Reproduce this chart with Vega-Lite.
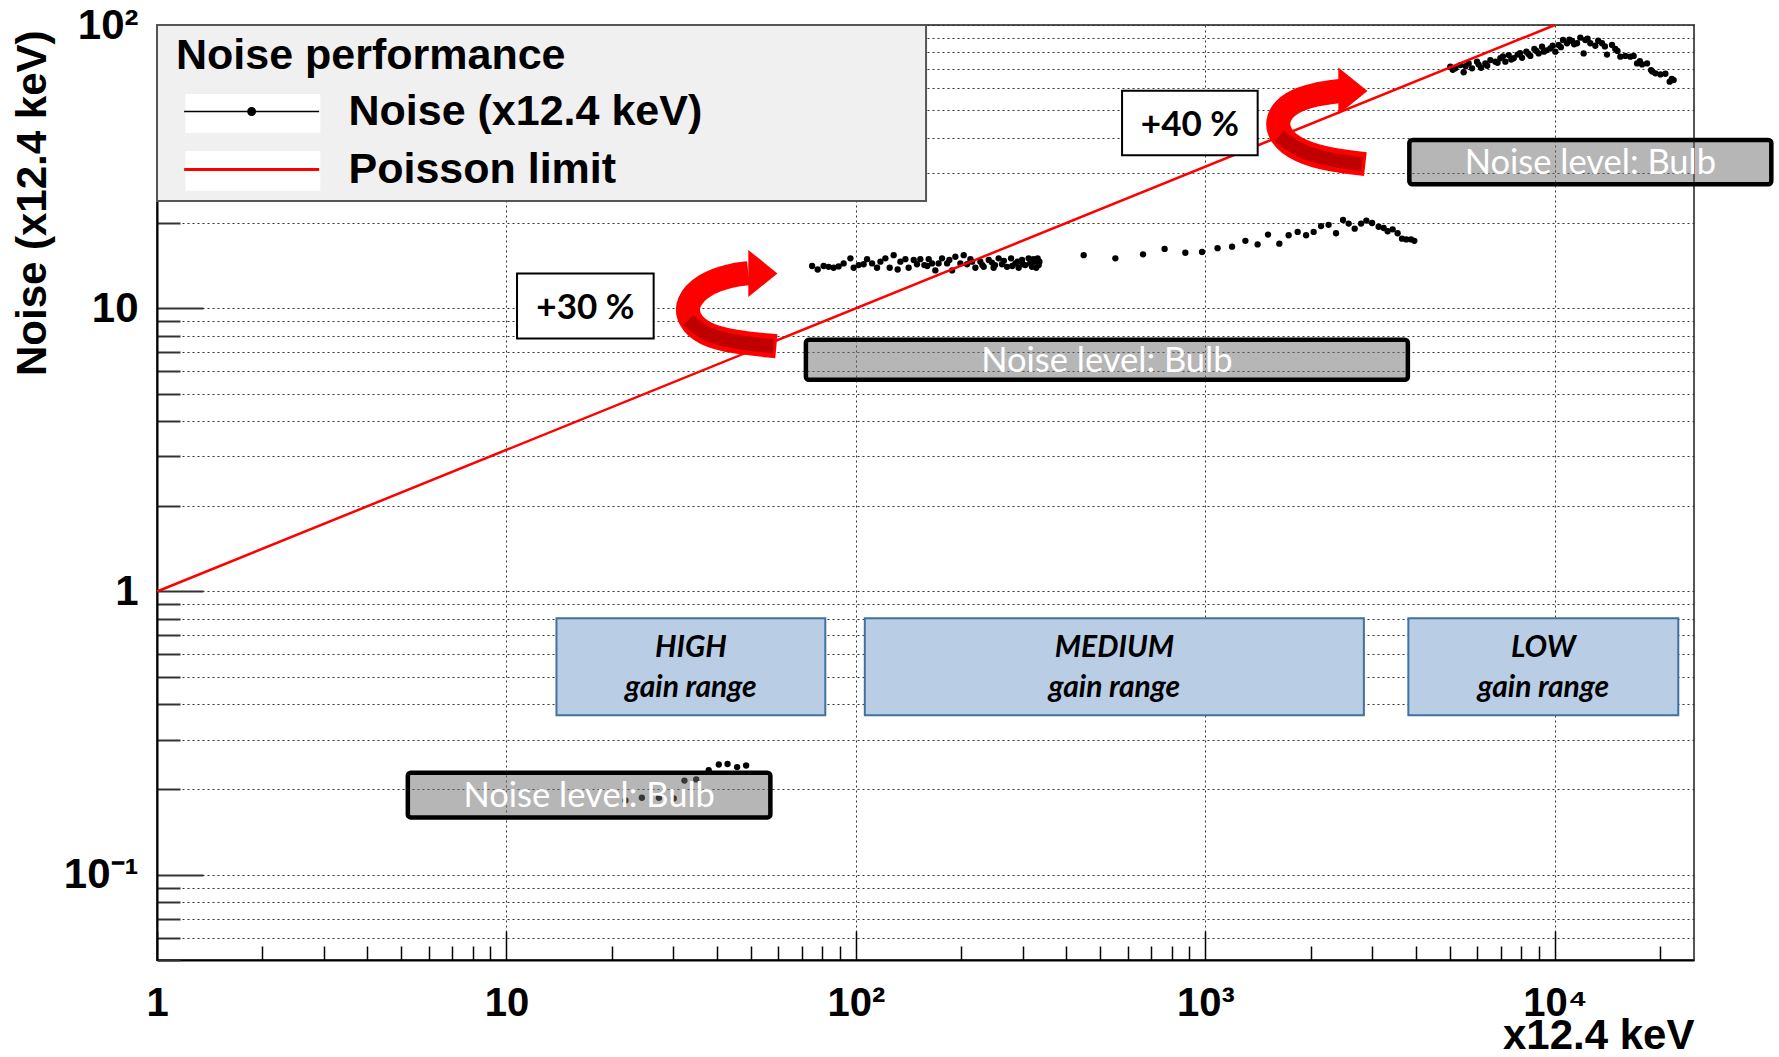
{
  "$schema": "https://vega.github.io/schema/vega-lite/v6.json",
  "width": 1537,
  "height": 935,
  "autosize": {"type": "none"},
  "padding": {"left": 157, "top": 25, "right": 85, "bottom": 97},
  "background": "white",
  "config": {"view": {"stroke": "#555555", "strokeWidth": 2}, "font": "Liberation Sans"},
  "datasets": {
    "noise": [
      {"x": 21.9, "y": 0.183}, {"x": 24.4, "y": 0.187}, {"x": 27.3, "y": 0.187}, {"x": 30.1, "y": 0.186},
      {"x": 32.3, "y": 0.215}, {"x": 34.9, "y": 0.217}, {"x": 37.9, "y": 0.234}, {"x": 40.5, "y": 0.245},
      {"x": 42.9, "y": 0.246}, {"x": 45.7, "y": 0.24}, {"x": 48.5, "y": 0.243},
      {"x": 74.9, "y": 14.1}, {"x": 77.7, "y": 13.7}, {"x": 80.8, "y": 14.1}, {"x": 83.5, "y": 14.0},
      {"x": 86.3, "y": 13.9}, {"x": 89.2, "y": 14.05}, {"x": 92.2, "y": 14.4}, {"x": 96.4, "y": 15.0},
      {"x": 98.5, "y": 13.9}, {"x": 101.8, "y": 14.2}, {"x": 105.2, "y": 14.3}, {"x": 107.6, "y": 14.9},
      {"x": 111.2, "y": 14.4}, {"x": 114.9, "y": 13.9}, {"x": 117.5, "y": 14.6}, {"x": 121.4, "y": 15.0},
      {"x": 124.9, "y": 13.9}, {"x": 128.2, "y": 15.4}, {"x": 131.6, "y": 13.7}, {"x": 134.0, "y": 14.6},
      {"x": 138.5, "y": 14.9}, {"x": 141.5, "y": 13.9}, {"x": 146.3, "y": 14.8}, {"x": 149.5, "y": 14.3},
      {"x": 152.8, "y": 14.9}, {"x": 156.9, "y": 14.2}, {"x": 160.0, "y": 14.1}, {"x": 161.5, "y": 14.9},
      {"x": 165.1, "y": 14.4}, {"x": 168.7, "y": 13.6}, {"x": 172.4, "y": 14.4}, {"x": 176.3, "y": 15.0},
      {"x": 182.3, "y": 14.4}, {"x": 185.0, "y": 14.8}, {"x": 188.4, "y": 13.6}, {"x": 192.5, "y": 15.2},
      {"x": 199.0, "y": 14.4}, {"x": 203.4, "y": 15.4}, {"x": 207.9, "y": 14.3}, {"x": 212.5, "y": 14.9},
      {"x": 215.0, "y": 14.6}, {"x": 219.6, "y": 13.9}, {"x": 227.0, "y": 14.6}, {"x": 230.0, "y": 14.2},
      {"x": 232.0, "y": 14.0}, {"x": 239.8, "y": 14.8}, {"x": 245.0, "y": 14.5}, {"x": 247.7, "y": 13.9},
      {"x": 250.0, "y": 14.2}, {"x": 256.0, "y": 15.0}, {"x": 261.8, "y": 14.3}, {"x": 265.0, "y": 14.7},
      {"x": 270.6, "y": 14.0}, {"x": 277.8, "y": 15.0}, {"x": 280.0, "y": 14.1}, {"x": 285.8, "y": 14.4},
      {"x": 290.0, "y": 14.6}, {"x": 292.1, "y": 13.9}, {"x": 298.7, "y": 14.8}, {"x": 300.0, "y": 14.3},
      {"x": 305.2, "y": 14.2}, {"x": 311.9, "y": 15.0}, {"x": 315.0, "y": 14.4}, {"x": 319.0, "y": 14.0},
      {"x": 322.0, "y": 14.9}, {"x": 326.0, "y": 14.6}, {"x": 328.0, "y": 13.9}, {"x": 331.0, "y": 15.0},
      {"x": 333.3, "y": 14.2}, {"x": 335.0, "y": 14.6},
      {"x": 448.3, "y": 15.4}, {"x": 552.4, "y": 15.0}, {"x": 662.8, "y": 15.5}, {"x": 764.2, "y": 16.2},
      {"x": 875.9, "y": 15.7}, {"x": 977.9, "y": 15.8}, {"x": 1083, "y": 16.3}, {"x": 1191.5, "y": 16.5},
      {"x": 1301, "y": 17.3}, {"x": 1410, "y": 16.8}, {"x": 1510, "y": 18.2}, {"x": 1627, "y": 16.9},
      {"x": 1730, "y": 18.1}, {"x": 1836, "y": 18.6}, {"x": 1941, "y": 18.1}, {"x": 2040, "y": 18.6},
      {"x": 2142, "y": 19.5}, {"x": 2251, "y": 19.7}, {"x": 2364, "y": 18.4}, {"x": 2476, "y": 20.5},
      {"x": 2569, "y": 19.9}, {"x": 2673, "y": 19.1}, {"x": 2788, "y": 19.9}, {"x": 2887, "y": 20.4},
      {"x": 2998, "y": 20.0}, {"x": 3130, "y": 19.4}, {"x": 3236, "y": 19.2}, {"x": 3322, "y": 18.7},
      {"x": 3433, "y": 19.0}, {"x": 3547, "y": 18.4}, {"x": 3651, "y": 17.6}, {"x": 3756, "y": 17.5},
      {"x": 3875, "y": 17.5}, {"x": 3960, "y": 17.3},
      {"x": 5020, "y": 71.3}, {"x": 5100, "y": 69.5}, {"x": 5188, "y": 70.3}, {"x": 5362, "y": 72.2},
      {"x": 5481, "y": 68.1}, {"x": 5550, "y": 71.5}, {"x": 5664, "y": 73.2}, {"x": 5792, "y": 70.3},
      {"x": 5985, "y": 74.2}, {"x": 6050, "y": 72.5}, {"x": 6147, "y": 70.6}, {"x": 6323, "y": 73.2},
      {"x": 6400, "y": 71.8}, {"x": 6535, "y": 75.2}, {"x": 6754, "y": 74.2}, {"x": 6850, "y": 73.5},
      {"x": 6980, "y": 76.3}, {"x": 7100, "y": 77.5}, {"x": 7214, "y": 74.2}, {"x": 7373, "y": 78.3},
      {"x": 7500, "y": 75.5}, {"x": 7620, "y": 76.3}, {"x": 7823, "y": 78.6}, {"x": 7950, "y": 79.5},
      {"x": 8053, "y": 76.6}, {"x": 8285, "y": 80.5}, {"x": 8400, "y": 79.0}, {"x": 8505, "y": 77.8},
      {"x": 8733, "y": 82.3}, {"x": 8850, "y": 81.0}, {"x": 8984, "y": 79.4}, {"x": 9184, "y": 83.8},
      {"x": 9300, "y": 80.5}, {"x": 9449, "y": 81.4}, {"x": 9701, "y": 82.6}, {"x": 9850, "y": 84.5},
      {"x": 10025, "y": 80.5}, {"x": 10247, "y": 85.0}, {"x": 10400, "y": 83.5}, {"x": 10548, "y": 88.5},
      {"x": 10830, "y": 86.2}, {"x": 11000, "y": 88.8}, {"x": 11193, "y": 87.8}, {"x": 11350, "y": 85.5},
      {"x": 11568, "y": 86.2}, {"x": 11822, "y": 90.2}, {"x": 12082, "y": 79.4}, {"x": 12217, "y": 88.5},
      {"x": 12400, "y": 89.5}, {"x": 12626, "y": 86.2}, {"x": 13049, "y": 84.5}, {"x": 13300, "y": 88.0},
      {"x": 13637, "y": 86.2}, {"x": 13900, "y": 84.0}, {"x": 14093, "y": 78.6}, {"x": 14566, "y": 85.0},
      {"x": 14886, "y": 82.3}, {"x": 15100, "y": 81.0}, {"x": 15385, "y": 77.3}, {"x": 15900, "y": 77.8},
      {"x": 16432, "y": 77.3}, {"x": 16797, "y": 77.8}, {"x": 17180, "y": 73.2}, {"x": 17500, "y": 74.5},
      {"x": 17755, "y": 72.6}, {"x": 18349, "y": 73.2}, {"x": 18841, "y": 69.3}, {"x": 19000, "y": 68.5},
      {"x": 19389, "y": 67.5}, {"x": 20037, "y": 66.9}, {"x": 20708, "y": 67.3}, {"x": 21303, "y": 63.1},
      {"x": 21600, "y": 64.5}, {"x": 21866, "y": 63.9}
    ],
    "poisson": [{"x": 1, "y": 1}, {"x": 10000, "y": 100}],
    "legendBox": [{"x": 1, "x2": 158.7, "y": 100, "y2": 23.9}],
    "legendSymbolBoxes": [
      {"x": 1.206, "x2": 2.934, "y": 57.06, "y2": 41.55},
      {"x": 1.206, "x2": 2.934, "y": 35.9, "y2": 26.0}
    ],
    "bulbBoxes": [
      {"x": 5.22, "x2": 56.9, "y": 0.229, "y2": 0.1594},
      {"x": 71.9, "x2": 3795, "y": 7.745, "y2": 5.595},
      {"x": 3832, "x2": 41610, "y": 39.3, "y2": 27.4}
    ],
    "bulbLabels": [
      {"x": 17.24, "y": 0.191, "label": "Noise level: Bulb"},
      {"x": 522.3, "y": 6.58, "label": "Noise level: Bulb"},
      {"x": 12626, "y": 32.8, "label": "Noise level: Bulb"}
    ],
    "gainBoxes": [
      {"x": 13.9, "x2": 81.7, "y": 0.804, "y2": 0.3654},
      {"x": 106.0, "x2": 2840, "y": 0.804, "y2": 0.3654},
      {"x": 3807, "x2": 22540, "y": 0.804, "y2": 0.3654}
    ],
    "gainLabels": [
      {"x": 33.7, "y": 0.542, "label": ["HIGH", "gain range"]},
      {"x": 548.8, "y": 0.542, "label": ["MEDIUM", "gain range"]},
      {"x": 9265, "y": 0.542, "label": ["LOW", "gain range"]}
    ],
    "pctBoxes": [
      {"x": 10.72, "x2": 26.37, "y": 13.27, "y2": 7.82},
      {"x": 577.3, "x2": 1410.7, "y": 58.6, "y2": 34.7}
    ],
    "pctLabels": [
      {"x": 16.82, "y": 10.19, "label": "+30 %"},
      {"x": 902.6, "y": 45.1, "label": "+40 %"}
    ],
    "arrows": [
      {"arrow": "a1", "seq": 1, "x": 59.19, "y": 7.346},
      {"arrow": "a1", "seq": 2, "x": 44.59, "y": 7.59},
      {"arrow": "a1", "seq": 3, "x": 36.6, "y": 8.1},
      {"arrow": "a1", "seq": 4, "x": 33.15, "y": 9.08},
      {"arrow": "a1", "seq": 5, "x": 32.71, "y": 10.51},
      {"arrow": "a1", "seq": 6, "x": 36.6, "y": 12.16},
      {"arrow": "a1", "seq": 7, "x": 43.71, "y": 13.09},
      {"arrow": "a1", "seq": 8, "x": 49.21, "y": 13.3},
      {"arrow": "a2", "seq": 1, "x": 2868, "y": 32.28},
      {"arrow": "a2", "seq": 2, "x": 2277, "y": 33.35},
      {"arrow": "a2", "seq": 3, "x": 1844, "y": 35.88},
      {"arrow": "a2", "seq": 4, "x": 1627, "y": 40.54},
      {"arrow": "a2", "seq": 5, "x": 1595, "y": 46.94},
      {"arrow": "a2", "seq": 6, "x": 1750, "y": 53.46},
      {"arrow": "a2", "seq": 7, "x": 2063, "y": 57.06},
      {"arrow": "a2", "seq": 8, "x": 2432, "y": 58.47}
    ],
    "arrowShade": [
      {"arrow": "a1", "seq": 1, "x": 58.0, "y": 7.346},
      {"arrow": "a1", "seq": 2, "x": 44.59, "y": 7.59},
      {"arrow": "a1", "seq": 3, "x": 36.6, "y": 8.1},
      {"arrow": "a1", "seq": 4, "x": 33.15, "y": 9.08},
      {"arrow": "a2", "seq": 1, "x": 2800, "y": 32.28},
      {"arrow": "a2", "seq": 2, "x": 2277, "y": 33.35},
      {"arrow": "a2", "seq": 3, "x": 1844, "y": 35.88},
      {"arrow": "a2", "seq": 4, "x": 1627, "y": 40.54}
    ],
    "arrowHeads": [
      {"x": 54.15, "y": 13.27},
      {"x": 2642, "y": 58.47}
    ]
  },
  "encoding": {
    "x": {
      "field": "x", "type": "quantitative",
      "scale": {"type": "log", "domain": [1, 25000], "nice": false},
      "axis": {
        "title": "x12.4 keV", "titleFont": "Liberation Sans", "titleFontSize": 42, "titleFontWeight": "bold", "titleColor": "black",
        "titleX": 1537, "titleY": 88, "titleAlign": "right", "titleBaseline": "alphabetic",
        "values": [1,2,3,4,5,6,7,8,9,10,20,30,40,50,60,70,80,90,100,200,300,400,500,600,700,800,900,1000,2000,3000,4000,5000,6000,7000,8000,9000,10000,20000],
        "labelExpr": "datum.value == 1 ? '1' : datum.value == 10 ? '10' : datum.value == 100 ? '10\u00b2' : datum.value == 1000 ? '10\u00b3' : datum.value == 10000 ? '10\u2074' : ''",
        "labelFont": "Liberation Sans", "labelFontSize": 40, "labelFontWeight": "bold", "labelColor": "black",
        "labelBaseline": "alphabetic", "labelAlign": "center", "labelFlush": false, "labelOverlap": false, "labelPadding": 84,
        "tickSize": {"condition": {"test": "indexof([1,10,100,1000,10000], datum.value) >= 0", "value": -29}, "value": -14},
        "tickColor": "black", "tickWidth": 1.5,
        "grid": true, "gridDash": [2, 3], "gridColor": "#333333", "gridWidth": 1,
        "gridOpacity": {"condition": {"test": "indexof([10,100,1000,10000], datum.value) >= 0", "value": 1}, "value": 0},
        "domainColor": "black", "domainWidth": 2
      }
    },
    "y": {
      "field": "y", "type": "quantitative",
      "scale": {"type": "log", "domain": [0.05, 100], "nice": false},
      "axis": {
        "title": "Noise (x12.4 keV)", "titleFont": "Liberation Sans", "titleFontSize": 42, "titleFontWeight": "bold", "titleColor": "black",
        "titleAngle": 270, "titleX": -125, "titleY": 5, "titleAlign": "right", "titleBaseline": "middle",
        "values": [0.05,0.06,0.07,0.08,0.09,0.1,0.2,0.3,0.4,0.5,0.6,0.7,0.8,0.9,1,2,3,4,5,6,7,8,9,10,20,30,40,50,60,70,80,90,100],
        "labelExpr": "datum.value == 100 ? '10\u00b2' : datum.value == 10 ? '10' : datum.value == 1 ? '1' : datum.value == 0.1 ? '10\u207b\u00b9' : ''",
        "labelFont": "Liberation Sans", "labelFontSize": 42, "labelFontWeight": "bold", "labelColor": "black",
        "labelAlign": "right", "labelBaseline": "middle", "labelFlush": false, "labelOverlap": false, "labelPadding": 65,
        "tickSize": {"condition": {"test": "indexof([0.1,1,10,100], datum.value) >= 0", "value": -46}, "value": -23},
        "tickColor": "#333333", "tickWidth": 2,
        "grid": true, "gridDash": [2, 3], "gridColor": "#333333", "gridWidth": 1,
        "domainColor": "black", "domainWidth": 2
      }
    }
  },
  "layer": [
    {
      "data": {"name": "legendBox"},
      "mark": {"type": "rect", "fill": "#f0f0f0", "stroke": "#555555", "strokeWidth": 2},
      "encoding": {"x2": {"field": "x2"}, "y2": {"field": "y2"}}
    },
    {
      "data": {"name": "legendSymbolBoxes"},
      "mark": {"type": "rect", "fill": "white", "strokeWidth": 0},
      "encoding": {"x2": {"field": "x2"}, "y2": {"field": "y2"}}
    },
    {
      "data": {"name": "noise"},
      "mark": {"type": "circle", "size": 40, "opacity": 1},
      "encoding": {
        "fill": {
          "datum": "Noise (x12.4 keV)", "type": "nominal",
          "scale": {"domain": ["Noise (x12.4 keV)"], "range": ["#000000"]},
          "legend": {
            "orient": "none", "legendX": 19, "legendY": 10, "padding": 0, "zindex": 1,
            "title": "Noise performance", "titleFont": "Liberation Sans", "titleFontSize": 43, "titleFontWeight": "bold", "titleColor": "black", "titlePadding": 12, "titleLimit": 2000,
            "labelFont": "Liberation Sans", "labelFontSize": 43, "labelFontWeight": "bold", "labelColor": "black", "labelLimit": 2000,
            "symbolType": "M-1,0H7M3.22,0A0.22,0.22,0,1,1,2.78,0A0.22,0.22,0,1,1,3.22,0Z", "symbolSize": 1139, "symbolOffset": 3.5, "labelOffset": 126,
            "symbolStrokeColor": "#000000", "symbolFillColor": "#000000", "symbolStrokeWidth": 1.5, "symbolOpacity": 1
          }
        }
      }
    },
    {
      "data": {"name": "poisson"},
      "mark": {"type": "line", "strokeWidth": 2.5},
      "encoding": {
        "stroke": {
          "datum": "Poisson limit", "type": "nominal",
          "scale": {"domain": ["Poisson limit"], "range": ["#ff0000"]},
          "legend": {
            "orient": "none", "legendX": 19, "legendY": 123, "padding": 0, "zindex": 1, "title": null,
            "labelFont": "Liberation Sans", "labelFontSize": 43, "labelFontWeight": "bold", "labelColor": "black", "labelLimit": 2000,
            "symbolType": "M-1,0H7", "symbolSize": 1139, "symbolOffset": 3.5, "labelOffset": 126,
            "symbolStrokeColor": "#ff0000", "symbolStrokeWidth": 3, "symbolOpacity": 1
          }
        }
      }
    },
    {
      "data": {"name": "bulbBoxes"},
      "mark": {"type": "rect", "fill": "#6e6e6e", "fillOpacity": 0.5, "stroke": "black", "strokeWidth": 4.5, "cornerRadius": 3},
      "encoding": {"x2": {"field": "x2"}, "y2": {"field": "y2"}}
    },
    {
      "data": {"name": "bulbLabels"},
      "mark": {"type": "text", "font": "Lato", "fontSize": 34.5, "color": "white", "align": "center", "baseline": "middle", "dy": 2},
      "encoding": {"text": {"field": "label"}}
    },
    {
      "data": {"name": "gainBoxes"},
      "mark": {"type": "rect", "fill": "#b9cde5", "stroke": "#41719c", "strokeWidth": 2},
      "encoding": {"x2": {"field": "x2"}, "y2": {"field": "y2"}}
    },
    {
      "data": {"name": "gainLabels"},
      "mark": {"type": "text", "font": "Lato", "fontSize": 30, "fontWeight": "bold", "fontStyle": "italic", "color": "black", "align": "center", "baseline": "middle", "lineHeight": 40, "dy": -19},
      "encoding": {"text": {"field": "label"}}
    },
    {
      "data": {"name": "pctBoxes"},
      "mark": {"type": "rect", "fill": "white", "stroke": "black", "strokeWidth": 2},
      "encoding": {"x2": {"field": "x2"}, "y2": {"field": "y2"}}
    },
    {
      "data": {"name": "pctLabels"},
      "mark": {"type": "text", "font": "Lato", "fontSize": 35, "fontWeight": "bold", "color": "black", "align": "center", "baseline": "middle", "dy": 2},
      "encoding": {"text": {"field": "label"}}
    },
    {
      "data": {"name": "arrows"},
      "mark": {"type": "line", "color": "#ff0000", "strokeWidth": 24, "interpolate": "basis", "strokeCap": "butt"},
      "encoding": {"detail": {"field": "arrow"}, "order": {"field": "seq"}}
    },
    {
      "data": {"name": "arrowShade"},
      "mark": {"type": "line", "color": "#c00000", "strokeWidth": 14, "interpolate": "basis", "strokeCap": "butt"},
      "encoding": {"detail": {"field": "arrow"}, "order": {"field": "seq"}}
    },
    {
      "data": {"name": "arrowHeads"},
      "mark": {"type": "point", "filled": true, "color": "#ff0000", "opacity": 1, "size": 2209, "shape": "M-0.62,-1L0.62,0L-0.62,1Z"},
      "encoding": {}
    }
  ]
}
